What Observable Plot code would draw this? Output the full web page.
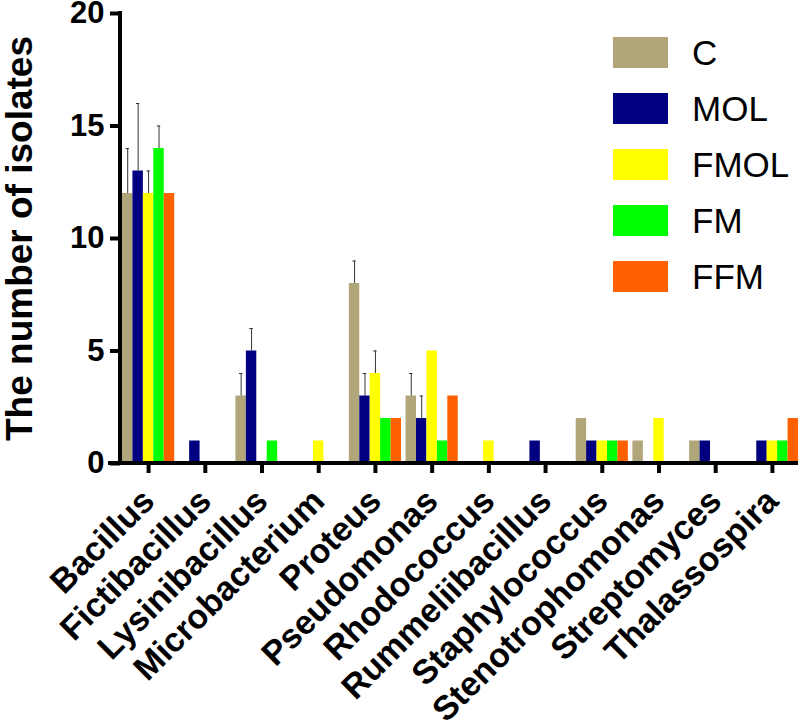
<!DOCTYPE html>
<html>
<head>
<meta charset="utf-8">
<script src="https://cdn.jsdelivr.net/npm/d3@7"></script>
<script src="https://cdn.jsdelivr.net/npm/@observablehq/plot@0.6"></script>
<style>
  html, body { margin: 0; padding: 0; background: white; }
  #wrap { position: relative; width: 800px; height: 724px; font-family: 'Liberation Sans', Arial, sans-serif; }
  #legend { position: absolute; left: 613px; top: 37px; }
  .row { display: flex; align-items: center; height: 31px; margin-bottom: 25px; }
  .sw { width: 55px; height: 31px; margin-right: 24px; }
  .lab { font-size: 35px; color: #000; line-height: 31px; }
  svg [aria-label="y-axis label"] text { font-size: 37px; font-weight: bold; }
</style>
</head>
<body>
<div id="wrap"></div>
<script>
const categories = ["Bacillus","Fictibacillus","Lysinibacillus","Microbacterium","Proteus","Pseudomonas","Rhodococcus","Rummeliibacillus","Staphylococcus","Stenotrophomonas","Streptomyces","Thalassospira"];
const series = ["C","MOL","FMOL","FM","FFM"];
const colors = ["#B0A67A","#000080","#FFFF00","#00FF00","#FF6000"];

const C    = [12, 0, 3, 0, 8, 3, 0, 0, 2, 1, 1, 0];
const MOL  = [13, 1, 5, 0, 3, 2, 0, 1, 1, 0, 1, 1];
const FMOL = [12, 0, 0, 1, 4, 5, 1, 0, 1, 2, 0, 1];
const FM   = [14, 0, 1, 0, 2, 1, 0, 0, 1, 0, 0, 1];
const FFM  = [12, 0, 0, 0, 2, 3, 0, 0, 1, 0, 0, 2];

const C_err    = [2, 0, 1, 0, 1, 1, 0, 0, 0, 0, 0, 0];
const MOL_err  = [3, 0, 1, 0, 1, 1, 0, 0, 0, 0, 0, 0];
const FMOL_err = [1, 0, 0, 0, 1, 0, 0, 0, 0, 0, 0, 0];
const FM_err   = [1, 0, 0, 0, 0, 0, 0, 0, 0, 0, 0, 0];
const FFM_err  = [0, 0, 0, 0, 0, 0, 0, 0, 0, 0, 0, 0];

const yTicks = [0, 5, 10, 15, 20];
const yLabel = "The number of isolates";

const values = {C, MOL, FMOL, FM, FFM};
const errors = {C: C_err, MOL: MOL_err, FMOL: FMOL_err, FM: FM_err, FFM: FFM_err};

const data = [];
categories.forEach((cat, i) => {
  series.forEach(s => {
    data.push({category: cat, series: s, value: values[s][i], err: errors[s][i], top: values[s][i] + errors[s][i]});
  });
});
const errData = data.filter(d => d.err > 0);

const plot = Plot.plot({
  width: 800,
  height: 724,
  marginLeft: 122,
  marginRight: 2,
  marginTop: 13,
  marginBottom: 261,
  style: {fontFamily: "'Liberation Sans', Arial, sans-serif", background: "white", color: "black"},
  fx: {domain: categories, paddingInner: 0.08, paddingOuter: 0, round: false, label: null},
  x: {domain: series, axis: null, paddingInner: 0, paddingOuter: 0, round: false},
  y: {domain: [0, 20]},
  color: {domain: series, range: colors},
  marks: [
    Plot.barY(data, {fx: "category", x: "series", y: "value", fill: "series"}),
    Plot.ruleX(errData, {fx: "category", x: "series", y1: "value", y2: "top", stroke: "#333", strokeWidth: 1}),
    Plot.tickY(errData, {fx: "category", x: "series", y: "top", stroke: "#333", strokeWidth: 1, insetLeft: 3.5, insetRight: 3.5}),
    Plot.axisY({ticks: yTicks, tickSize: 10, strokeWidth: 4, dx: -2, tickPadding: 6, fontSize: 31, fontWeight: "bold",
      label: yLabel, labelAnchor: "center", labelArrow: false, labelOffset: 117}),
    Plot.axisFx({anchor: "bottom", tickSize: 10, strokeWidth: 4, tickRotate: -45, tickPadding: 22, fontSize: 34, fontWeight: "bold", label: null})
  ]
});

// axis lines from the plot's own scales
const ys = plot.scale("y");
const fxs = plot.scale("fx");
const y0 = ys.apply(0), yTop = ys.apply(20);
const svg = d3.select(plot);
svg.append("line").attr("x1", 108).attr("x2", fxs.range[1]).attr("y1", y0).attr("y2", y0)
  .attr("stroke", "black").attr("stroke-width", 4);
svg.append("line").attr("x1", fxs.range[0] - 2).attr("x2", fxs.range[0] - 2).attr("y1", yTop - 2).attr("y2", y0 + 2)
  .attr("stroke", "black").attr("stroke-width", 4);

const wrap = document.getElementById("wrap");
wrap.appendChild(plot);

const legend = document.createElement("div");
legend.id = "legend";
series.forEach((s, i) => {
  const row = document.createElement("div");
  row.className = "row";
  const sw = document.createElement("div");
  sw.className = "sw";
  sw.style.background = colors[i];
  const lab = document.createElement("span");
  lab.className = "lab";
  lab.textContent = s;
  row.appendChild(sw); row.appendChild(lab);
  legend.appendChild(row);
});
wrap.appendChild(legend);
</script>
</body>
</html>
